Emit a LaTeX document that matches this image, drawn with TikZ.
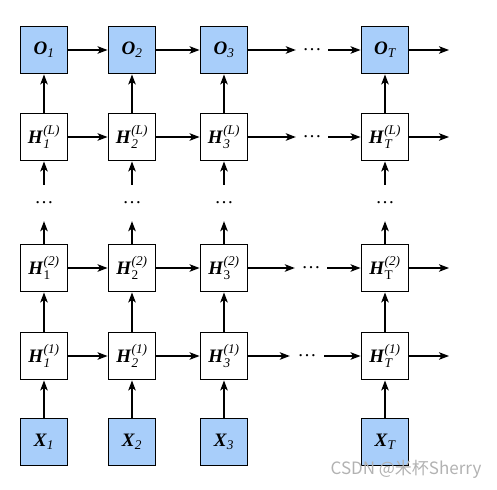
\documentclass[tikz,border=0pt]{standalone}
\usepackage{amsmath}
\usepackage{fontspec}
\setmainfont{Liberation Serif}
\newfontfamily\wmfont{Noto Sans CJK SC}
\usetikzlibrary{arrows.meta}
\definecolor{boxblue}{RGB}{168,206,250}
\newcommand{\bv}[1]{\textbf{\textit{#1}}}
\newcommand{\ti}[1]{\text{\normalfont\itshape #1}}
\newcommand{\tu}[1]{\text{\normalfont #1}}
\begin{document}
\begin{tikzpicture}[x=1pt,y=-1pt,
  font=\fontsize{19}{21}\selectfont,
  box/.style={draw, line width=1.9pt, minimum size=47pt, inner sep=0pt, fill=white},
  inbox/.style={box, fill=boxblue},
  hdots/.style={minimum width=32pt, minimum height=10pt, inner sep=0pt},
  vdots/.style={minimum width=20pt, minimum height=36pt, inner sep=0pt},
  arr/.style={-{Stealth[length=10pt,width=7.5pt,inset=2.5pt]}, line width=1.5pt}]
\useasboundingbox (0,0) rectangle (497,489);
% columns
\foreach \n/\x/\s in {1/44/1, 2/132/2, 3/224/3, T/385/T}{
  \node[inbox] (O\n) at (\x,50) {$\bv{O}_{\ti{\s}}$};
  \node[box] (L\n) at (\x,137) {$\bv{H}^{\ti{(L)}}_{\ti{\s}}$};
  \node[vdots] (v\n) at (\x,203) {\dots};
  \node[box] (B\n) at (\x,268) {$\bv{H}^{\ti{(2)}}_{\tu{\s}}$};
  \node[box] (A\n) at (\x,356) {$\bv{H}^{\ti{(1)}}_{\ti{\s}}$};
  \node[inbox] (X\n) at (\x,442) {$\bv{X}_{\ti{\s}}$};
  \draw[arr] (L\n) -- (O\n);
  \draw[arr] (v\n) -- (L\n);
  \draw[arr] (B\n) -- (v\n);
  \draw[arr] (A\n) -- (B\n);
  \draw[arr] (X\n) -- (A\n);
}
% horizontal dots
\node[hdots] (dO) at (312,50) {\dots};
\node[hdots] (dL) at (312,137) {\dots};
\node[hdots] (dB) at (311,268) {\dots};
\node[hdots, minimum width=34pt] (dA) at (307,356) {\dots};
% free ends
\foreach \r/\y in {O/50, L/137, B/268, A/356}{
  \coordinate (e\r) at (449,\y);
  \draw[arr] (\r1) -- (\r2);
  \draw[arr] (\r2) -- (\r3);
  \draw[arr] (\r3) -- (d\r);
  \draw[arr] (d\r) -- (\r T);
  \draw[arr] (\r T) -- (e\r);
}
% watermark
\node[text=black!30, font=\wmfont\fontsize{17}{19}\selectfont, inner sep=0pt] (wm) at (406,469) {CSDN @米杯Sherry};
\end{tikzpicture}
\end{document}
